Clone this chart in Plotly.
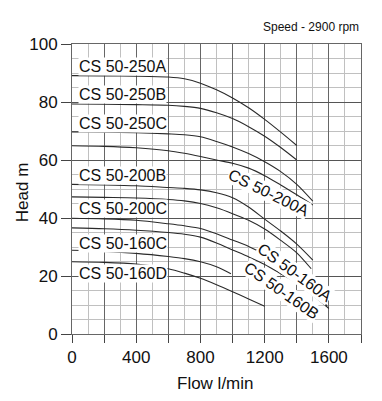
import plotly.graph_objects as go

# ---------------- data ----------------
flow_250A = [0, 200, 400, 600, 700, 800, 900, 1000, 1100, 1200, 1300, 1400]
head_250A = [89.1, 89.0, 88.9, 88.6, 88.0, 86.5, 84.2, 81.4, 78.0, 74.0, 69.6, 65.0]

flow_250B = [0, 200, 400, 600, 700, 800, 900, 1000, 1100, 1200, 1300, 1400]
head_250B = [79.3, 79.2, 79.1, 78.9, 78.5, 77.8, 76.3, 74.3, 71.5, 68.2, 64.3, 60.0]

flow_250C = [0, 200, 400, 600, 700, 800, 900, 1000, 1100, 1200, 1300, 1400, 1500]
head_250C = [69.7, 69.6, 69.4, 69.0, 68.7, 68.0, 66.4, 64.5, 62.2, 59.4, 56.0, 51.6, 45.8]

flow_200A = [0, 200, 400, 600, 700, 800, 900, 1000, 1100, 1200, 1300, 1400, 1500]
head_200A = [64.9, 64.7, 64.2, 63.2, 62.3, 61.2, 60.0, 58.9, 57.2, 54.6, 51.4, 48.0, 44.5]

flow_200B = [0, 200, 400, 600, 700, 800, 900, 1000, 1100, 1200, 1300, 1400, 1500]
head_200B = [51.6, 51.4, 51.1, 50.5, 50.2, 49.7, 48.7, 47.0, 43.8, 39.6, 35.5, 31.0, 25.5]

flow_200X = [0, 200, 400, 600, 700, 800, 900, 1000, 1100, 1200, 1300, 1400, 1490]
head_200X = [47.3, 47.1, 46.9, 46.4, 45.9, 45.0, 43.5, 41.5, 39.2, 36.2, 32.3, 28.0, 22.5]

flow_200C = [0, 200, 400, 600, 700, 800, 900, 1000, 1100, 1200, 1300, 1400, 1500, 1590]
head_200C = [39.9, 39.7, 39.2, 38.0, 37.3, 36.4, 34.6, 32.4, 30.2, 27.4, 23.8, 20.2, 15.3, 9.5]

flow_160B = [0, 200, 400, 600, 700, 800, 900, 1000, 1100, 1200, 1300, 1400, 1500, 1600]
head_160B = [36.6, 36.3, 35.8, 35.0, 34.4, 33.4, 31.4, 29.0, 26.6, 24.0, 20.8, 17.5, 13.3, 8.8]

flow_160C = [0, 200, 400, 600, 700, 800, 900, 990]
head_160C = [28.9, 28.5, 27.8, 26.7, 26.0, 24.9, 23.2, 20.8]

flow_160D = [0, 200, 400, 600, 700, 800, 900, 1000, 1100, 1200]
head_160D = [24.9, 24.7, 24.1, 22.5, 21.0, 19.2, 17.0, 14.6, 12.1, 9.6]

curves = [
    (flow_250A, head_250A), (flow_250B, head_250B), (flow_250C, head_250C),
    (flow_200A, head_200A), (flow_200B, head_200B), (flow_200X, head_200X),
    (flow_200C, head_200C), (flow_160B, head_160B), (flow_160C, head_160C),
    (flow_160D, head_160D),
]

# left-side labels: text, head level
left_labels = ["CS 50-250A", "CS 50-250B", "CS 50-250C", "CS 50-200B",
               "CS 50-200C", "CS 50-160C", "CS 50-160D"]
left_label_heads = [92.3, 82.5, 72.5, 54.5, 43.2, 31.3, 20.8]
left_label_flow = 40

# rotated labels at the curve ends: text, flow, head, angle
end_labels = ["CS 50-200A", "CS 50-160A", "CS 50-160B"]
end_label_flows = [1222, 1388, 1304]
end_label_heads = [48.8, 21.2, 15.0]
end_label_angles = [26, 36, 35]

x_tick_vals = [0, 200, 400, 600, 800, 1000, 1200, 1400, 1600, 1800]
x_tick_text = ["0", "", "400", "", "800", "", "1200", "", "1600", ""]
y_tick_vals = [0, 20, 40, 60, 80, 100]

FONT = "Liberation Sans, Arial, sans-serif"

fig = go.Figure()
for fx, hy in curves:
    fig.add_trace(go.Scatter(
        x=fx, y=hy, mode="lines",
        line=dict(color="#2a2a2a", width=1.1, shape="spline", smoothing=0.8),
        showlegend=False, hoverinfo="skip"))

annotations = []
for t, h in zip(left_labels, left_label_heads):
    annotations.append(dict(x=left_label_flow, y=h, xref="x", yref="y", text=t,
                            showarrow=False, xanchor="left", yanchor="middle",
                            font=dict(family=FONT, size=16, color="#111"),
                            bgcolor="white", borderpad=0))
for t, fx, h, a in zip(end_labels, end_label_flows, end_label_heads, end_label_angles):
    annotations.append(dict(x=fx, y=h, xref="x", yref="y", text=t,
                            showarrow=False, xanchor="center", yanchor="middle",
                            textangle=a,
                            font=dict(family=FONT, size=16, color="#111"),
                            bgcolor="white", borderpad=0))

annotations.append(dict(x=1.0, y=1.0575, xref="paper", yref="paper",
                        text="Speed - 2900 rpm", showarrow=False,
                        xanchor="right", yanchor="middle",
                        font=dict(family=FONT, size=12, color="#111")))
annotations.append(dict(x=0.498, y=-0.169, xref="paper", yref="paper",
                        text="Flow l/min", showarrow=False,
                        xanchor="center", yanchor="middle",
                        font=dict(family=FONT, size=17, color="#111")))
annotations.append(dict(x=-0.173, y=0.489, xref="paper", yref="paper",
                        text="Head m", showarrow=False, textangle=-90,
                        xanchor="center", yanchor="middle",
                        font=dict(family=FONT, size=17, color="#111")))

# the page body adds an 8 px offset, so the figure is sized to compensate
fig.update_layout(
    width=374, height=393,
    margin=dict(l=64, r=21, t=36, b=67),
    paper_bgcolor="white", plot_bgcolor="white",
    annotations=annotations,
    font=dict(family=FONT, color="#111"),
)
fig.update_xaxes(
    range=[0, 1800], tickmode="array", tickvals=x_tick_vals, ticktext=x_tick_text,
    ticks="outside", ticklen=8, tickcolor="#444", tickwidth=1,
    showgrid=True, gridcolor="#666", gridwidth=1,
    minor=dict(tick0=0, dtick=100, showgrid=True, gridcolor="#c0c0c0", gridwidth=1),
    showline=True, linecolor="#666", linewidth=1, mirror=True,
    zeroline=False,
    tickfont=dict(family=FONT, size=17, color="#111"),
)
fig.update_yaxes(
    range=[0, 100], tickmode="array", tickvals=y_tick_vals,
    ticks="outside", ticklen=10, tickcolor="#444", tickwidth=1,
    showgrid=True, gridcolor="#555", gridwidth=1,
    minor=dict(tick0=0, dtick=5, showgrid=True, gridcolor="#c0c0c0", gridwidth=1),
    showline=True, linecolor="#666", linewidth=1, mirror=True,
    zeroline=False,
    tickfont=dict(family=FONT, size=17, color="#111"),
)

fig.write_html("out.html")
